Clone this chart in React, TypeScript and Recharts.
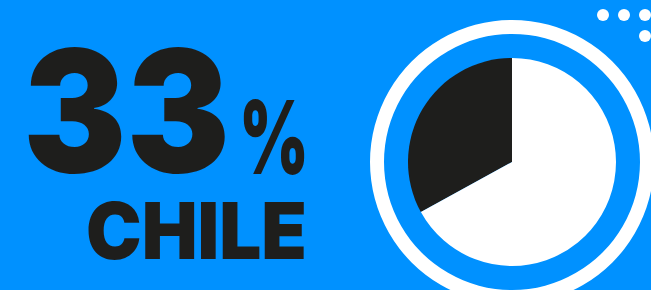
import { PieChart, Pie, Cell } from 'recharts';

const BLUE = '#0091ff';
const DARK = '#1e1e1c';

const shareNames = ['Chile', 'Resto'];
const shareValues = [33, 67];
const sliceColors = [DARK, '#ffffff'];
const ringValues = [100];

const headline = '33';
const percentSign = '%';
const countryLabel = 'CHILE';

// decorative dot grid, top right corner
const dotRows = [-6, 15, 36];
const dotCols = [603, 624, 645];

const share = shareNames.map((name, i) => ({ name, value: shareValues[i] }));
const ring = ringValues.map((value) => ({ name: 'ring', value }));

export default function App() {
  const font = 'Inter, "Noto Sans", sans-serif';
  return (
    <div
      style={{
        position: 'absolute',
        top: 0,
        left: 0,
        width: 651,
        height: 290,
        background: BLUE,
        overflow: 'hidden',
      }}
    >
      <svg
        width={651}
        height={290}
        style={{ position: 'absolute', top: 0, left: 0 }}
      >
        {dotRows.map((y, r) =>
          dotCols
            .filter((_, c) => r < 2 || c === 2)
            .map((x) => <circle key={`${r}-${x}`} cx={x} cy={y} r={6} fill="#fff" />)
        )}
        {/* one text block so the big figure, sign and country read as one label */}
        <text fontFamily={font} fontWeight={900} fill={DARK}>
          <tspan
            x={23}
            y={172}
            fontSize={170}
            textLength={207}
            lengthAdjust="spacingAndGlyphs"
          >
            {headline}
          </tspan>
          <tspan
            x={239}
            y={174}
            fontSize={102}
            textLength={70}
            lengthAdjust="spacingAndGlyphs"
          >
            {percentSign}
          </tspan>
          <tspan
            x={86}
            y={259}
            fontSize={78}
            textLength={221}
            lengthAdjust="spacingAndGlyphs"
          >
            {countryLabel}
          </tspan>
        </text>
      </svg>
      <div style={{ position: 'absolute', top: 0, left: 0 }}>
        <PieChart
          width={651}
          height={290}
          margin={{ top: 0, right: 0, bottom: 0, left: 0 }}
        >
          <Pie
            data={ring}
            dataKey="value"
            cx={512}
            cy={162}
            innerRadius={128}
            outerRadius={142}
            stroke="none"
            fill="#ffffff"
            isAnimationActive={false}
          />
          <Pie
            data={share}
            dataKey="value"
            cx={512}
            cy={162}
            outerRadius={104}
            startAngle={90}
            endAngle={450}
            stroke="none"
            isAnimationActive={false}
          >
            {share.map((d, i) => (
              <Cell key={d.name} fill={sliceColors[i]} />
            ))}
          </Pie>
        </PieChart>
      </div>
    </div>
  );
}
